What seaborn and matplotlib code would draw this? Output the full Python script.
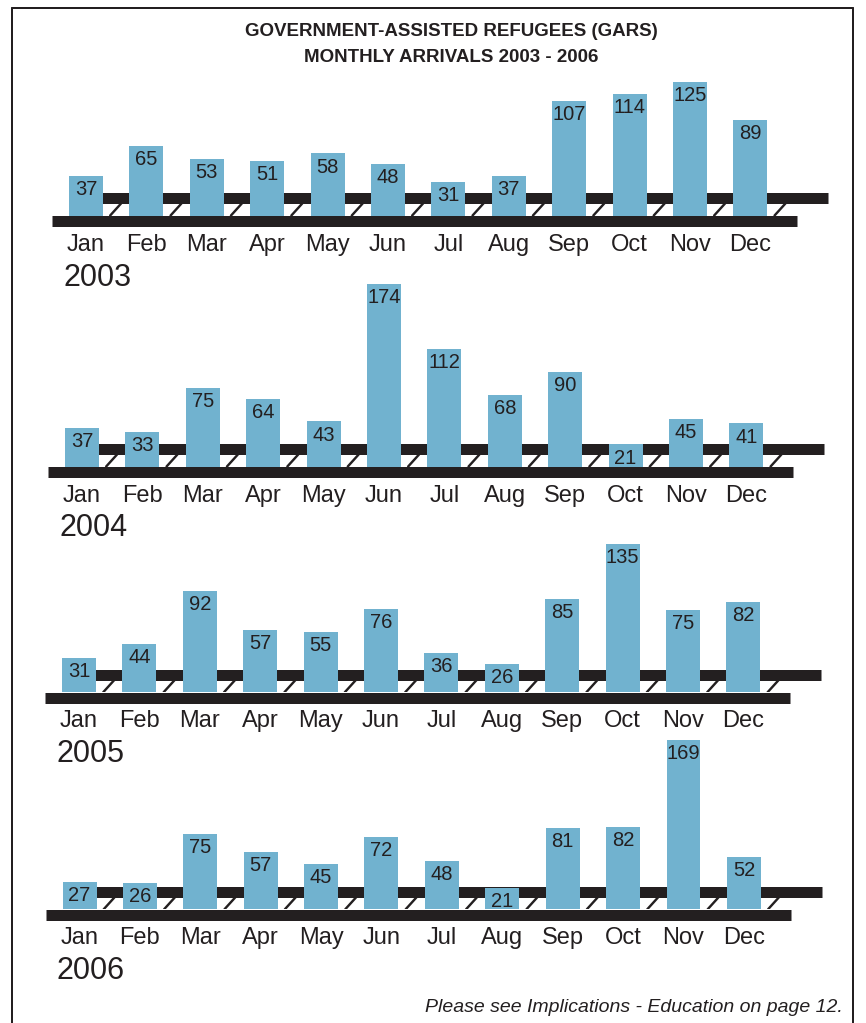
"""
GARS monthly arrivals 2003-2006, drawn as bars standing on a rail track.
Run: python plot.py
"""
import matplotlib
matplotlib.use("Agg")
import matplotlib.pyplot as plt
from matplotlib.lines import Line2D
import seaborn as sns

# ── data ──────────────────────────────────────────────────────────────────────
MONTHS = ["Jan", "Feb", "Mar", "Apr", "May", "Jun",
          "Jul", "Aug", "Sep", "Oct", "Nov", "Dec"]
YEARS = ["2003", "2004", "2005", "2006"]
GARS_2003 = [37, 65, 53, 51, 58, 48, 31, 37, 107, 114, 125, 89]
GARS_2004 = [37, 33, 75, 64, 43, 174, 112, 68, 90, 21, 45, 41]
GARS_2005 = [31, 44, 92, 57, 55, 76, 36, 26, 85, 135, 75, 82]
GARS_2006 = [27, 26, 75, 57, 45, 72, 48, 21, 81, 82, 169, 52]
SERIES = [GARS_2003, GARS_2004, GARS_2005, GARS_2006]

# ── layout (pixels) ───────────────────────────────────────────────────────────
W, H = 866, 1023
BLUE = "#71B2CF"
INK = "#231F20"
SLOT = 60.4            # px between bar centres
AX_H = 200             # px of plotting room above the rail
# jan centre x, rail top y, px per arrival
PANELS = [(86, 215.5, 1.07), (82, 466.5, 1.05), (79, 692.3, 1.10), (79.5, 909.3, 1.0)]
PT = 0.72              # points per pixel at dpi 100

sns.set_style("white")
plt.rcParams["font.family"] = ["Liberation Sans", "DejaVu Sans"]

fig = plt.figure(figsize=(W / 100, H / 100), dpi=100)

for (cx, base, scale), year, vals in zip(PANELS, YEARS, SERIES):
    ax = fig.add_axes([0, 1 - base / H, 1, AX_H / H])
    sns.barplot(x=MONTHS, y=vals, color=BLUE, saturation=1, width=34 / SLOT,
                linewidth=0, ax=ax, zorder=3)
    ax.set_xlim(-cx / SLOT, (W - cx) / SLOT)
    ax.set_ylim(0, AX_H / scale)
    px = 1 / scale

    # rail: upper band behind bars, lower band under them, ties between
    ax.plot([0, 11 + 78 / SLOT], [17.5 * px] * 2, color=INK, lw=11 * PT,
            solid_capstyle="butt", zorder=1)
    ax.plot([-34 / SLOT, 11 + 47 / SLOT], [-5.5 * px] * 2, color=INK, lw=11 * PT,
            solid_capstyle="butt", zorder=2, clip_on=False)
    for i in range(len(MONTHS)):
        ax.plot([i + 0.40, i + 0.58], [0, 12 * px], color=INK, lw=2.4 * PT, zorder=1)

    labels = ax.bar_label(ax.containers[0], padding=-3, fontsize=14.5, color=INK)
    for t in labels:
        t.set_va("top")

    ax.tick_params(axis="x", length=0, pad=13, labelsize=17, labelcolor=INK)
    ax.set_yticks([])
    ax.set_xlabel("")
    ax.set_ylabel("")
    sns.despine(ax=ax, left=True, bottom=True)
    ax.patch.set_alpha(0)
    ax.text(-0.38, -62 * px, year, fontsize=22, ha="left", va="center", color=INK)

# ── title, footer, frame ──────────────────────────────────────────────────────
fig.text(451 / W, 1 - 32 / H, "GOVERNMENT-ASSISTED REFUGEES (GARS)",
         ha="center", va="center", fontsize=13.5, weight="bold", color=INK)
fig.text(451 / W, 1 - 58 / H, "MONTHLY ARRIVALS 2003 - 2006",
         ha="center", va="center", fontsize=13.5, weight="bold", color=INK)
fig.text(843 / W, 1 - 1008 / H, "Please see Implications - Education on page 12.",
         ha="right", va="center", fontsize=14, style="italic", color=INK)

for xs, ys in [([12, 12], [1023, 8]), ([12, 853], [8, 8]), ([853, 853], [8, 1023])]:
    fig.add_artist(Line2D([x / W for x in xs], [1 - y / H for y in ys],
                          color=INK, lw=2 * PT))

fig.savefig("out.png", dpi=100)
plt.close()
